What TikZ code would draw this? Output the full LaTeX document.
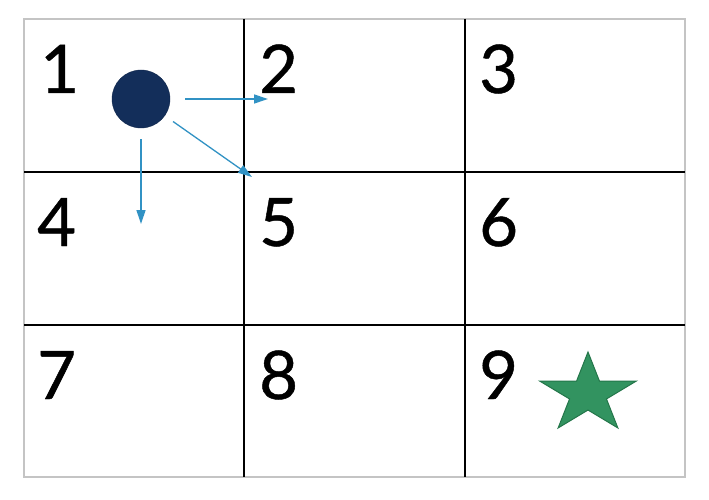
\documentclass[tikz,border=0pt]{standalone}
\usepackage{fontspec}
\newfontfamily\numfont{Lato}[FakeBold=0.7]
\usetikzlibrary{arrows.meta,shapes.geometric}
\definecolor{AgentNavy}{RGB}{19,46,90}
\definecolor{MoveBlue}{RGB}{49,146,196}
\definecolor{GoalGreen}{RGB}{50,147,96}
\definecolor{GoalEdge}{RGB}{36,118,74}
\definecolor{FrameGrey}{RGB}{196,196,196}

\begin{document}
\begin{tikzpicture}[x=1pt, y=-1pt,
            frame/.style={draw=FrameGrey, line width=1.6pt},
            gridline/.style={draw=black, line width=1.3pt},
            cellnum/.style={anchor=base west, inner sep=0pt,
                font=\numfont\fontsize{67}{67}\selectfont},
            agent/.style={circle, fill=AgentNavy, draw=AgentNavy!85!black,
                minimum size=58pt, inner sep=0pt},
            move/.style={-{Triangle[length=14pt,width=9pt]}, MoveBlue, line width=1.3pt},
            goal/.style={star, star points=5, star point ratio=2.618,
                minimum size=84pt, inner sep=0pt, fill=GoalGreen, draw=GoalEdge,
                line width=1pt, xscale=1.21, transform shape}
        ]
            \useasboundingbox[fill=white] (0,0) rectangle (709,500);

            % Grid
            \draw[frame] (24,19) rectangle (685,477);
            \draw[gridline] (244,19) -- (244,477);
            \draw[gridline] (465,19) -- (465,477);
            \draw[gridline] (24,172) -- (685,172);
            \draw[gridline] (24,325) -- (685,325);

            % Cell numbers
            \node[cellnum] (n1) at (40,93) {1};
            \node[cellnum] (n2) at (259,93) {2};
            \node[cellnum] (n3) at (479,93) {3};
            \node[cellnum] (n4) at (37,246) {4};
            \node[cellnum] (n5) at (259,246) {5};
            \node[cellnum] (n6) at (479,246) {6};
            \node[cellnum] (n7) at (37,399) {7};
            \node[cellnum] (n8) at (259,399) {8};
            \node[cellnum] (n9) at (479,399) {9};

            % Agent and its moves
            \node[agent] (agent) at (141,99) {};
            \coordinate (toright) at (268,99);
            \coordinate (todown) at (141,224);
            \coordinate (todiag) at (252,177);
            \draw[move, shorten <=15pt] (agent) -- (toright);
            \draw[move, shorten <=11pt] (agent) -- (todown);
            \draw[move, shorten <=10pt] (agent) -- (todiag);

            % Goal
            \node[goal] (goal) at (588,394) {};
        \end{tikzpicture}
\end{document}
